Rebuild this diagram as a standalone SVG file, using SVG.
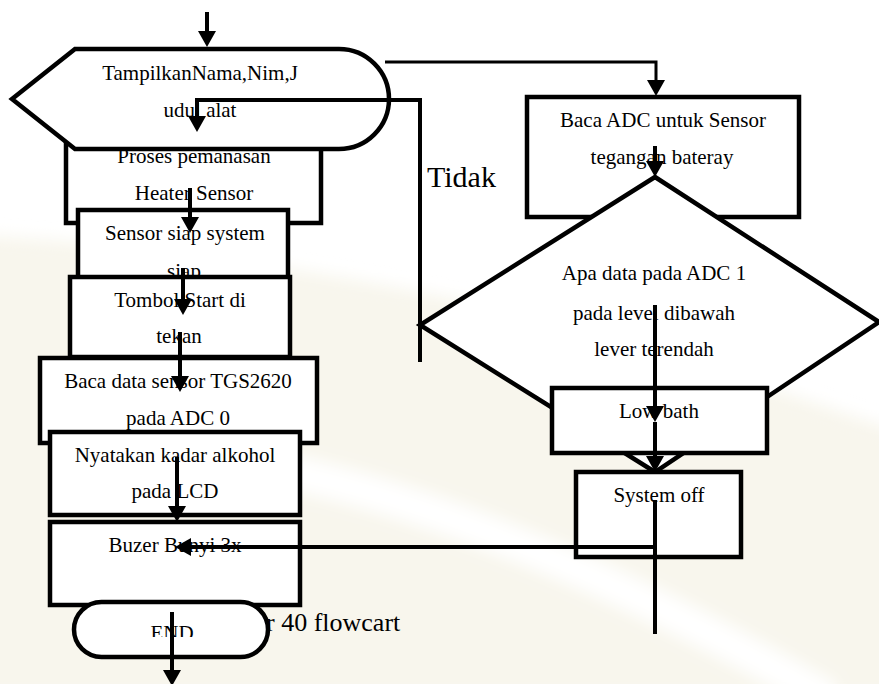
<svg xmlns="http://www.w3.org/2000/svg" width="879" height="684" viewBox="0 0 879 684">
  <style>
    .box { fill: #ffffff; stroke: #000000; stroke-width: 4.5; }
    .edge { fill: none; stroke: #000000; stroke-width: 4; }
    .thin { stroke-width: 3; }
    text { font-family: "Liberation Serif", "Times New Roman", serif; fill: #000000; }
    .t { font-size: 21px; text-anchor: middle; }
    .big { font-size: 30px; }
    .cap { font-size: 26px; }
    .wm { fill: #f8f6ed; }
  </style>
  <defs>
    <marker id="ah" viewBox="0 0 16 18" refX="10" refY="9" markerWidth="16" markerHeight="18" markerUnits="userSpaceOnUse" orient="auto">
      <path d="M0,0 L16,9 L0,18 Z" fill="#000000"/>
    </marker>
    <clipPath id="endClip">
      <rect x="100" y="600" width="150" height="37"/>
    </clipPath>
    <filter id="soft" x="-10%" y="-10%" width="120%" height="120%">
      <feGaussianBlur stdDeviation="8"/>
    </filter>
  </defs>

  <!-- page background with faint emblem -->
  <rect width="879" height="684" fill="#ffffff"/>
  <g id="emblem" filter="url(#soft)">
    <path class="wm" d="M-20,235 C150,245 300,268 420,292 C600,325 760,385 900,432 L900,700 L-20,700 Z"/>
    <path d="M280,470 Q520,520 830,700" fill="none" stroke="#ffffff" stroke-width="35"/>
  </g>

  <!-- left column -->
  <g id="heater">
    <rect class="box" x="66" y="140" width="255" height="83"/>
    <text class="t" x="194" y="163">Proses pemanasan</text>
    <text class="t" x="194" y="200">Heater Sensor</text>
  </g>
  <g id="display">
    <path class="box" d="M75,49 H339 A50,50 0 0 1 339,149 H75 L12,99 Z"/>
    <text class="t" x="200" y="80">TampilkanNama,Nim,J</text>
    <text class="t" x="200" y="117">udul alat</text>
  </g>
  <g id="ready">
    <rect class="box" x="78" y="210" width="210" height="80"/>
    <text class="t" x="185" y="240">Sensor siap system</text>
    <text class="t" x="184" y="278">siap</text>
  </g>
  <g id="start">
    <rect class="box" x="70" y="277" width="220" height="80"/>
    <text class="t" x="180" y="307">Tombol Start di</text>
    <text class="t" x="179" y="343">tekan</text>
  </g>
  <g id="read-tgs">
    <rect class="box" x="40" y="358" width="277" height="85"/>
    <text class="t" x="178" y="388">Baca data sensor TGS2620</text>
    <text class="t" x="178" y="425">pada ADC 0</text>
  </g>
  <g id="show-lcd">
    <rect class="box" x="50" y="432" width="250" height="83"/>
    <text class="t" x="175" y="462">Nyatakan kadar alkohol</text>
    <text class="t" x="175" y="498">pada LCD</text>
  </g>
  <g id="buzzer">
    <rect class="box" x="50" y="522" width="250" height="83"/>
    <text class="t" x="175" y="552">Buzer Bunyi 3x</text>
  </g>
  <text class="cap" x="266" y="631">r 40 flowcart</text>
  <g id="end">
    <rect class="box" x="74" y="602" width="194" height="55" rx="27.5" ry="27.5"/>
    <text class="t" x="172" y="640" font-size="22" clip-path="url(#endClip)">END</text>
  </g>

  <!-- right column -->
  <g id="read-adc">
    <rect class="box" x="527" y="97" width="272" height="120"/>
    <text class="t" x="663" y="127">Baca ADC untuk Sensor</text>
    <text class="t" x="662" y="164">tegangan bateray</text>
  </g>
  <g id="check-level">
    <polygon class="box" stroke-width="4" points="655,177 879,322 655,472 420,325"/>
    <text class="t" x="654" y="280">Apa data pada ADC 1</text>
    <text class="t" x="654" y="320">pada level dibawah</text>
    <text class="t" x="654" y="356">lever terendah</text>
  </g>
  <g id="low-bath">
    <rect class="box" x="552" y="388" width="215" height="65"/>
    <text class="t" x="659" y="418">Low bath</text>
  </g>
  <g id="system-off">
    <rect class="box" x="576" y="472" width="165" height="85"/>
    <text class="t" x="659" y="502">System off</text>
  </g>
  <text class="big" x="427" y="187">Tidak</text>

  <!-- connectors -->
  <g id="connectors">
    <path class="edge" d="M207,12 V41" marker-end="url(#ah)"/>
    <path class="edge thin" d="M385,62 H656 V90" marker-end="url(#ah)"/>
    <path class="edge" d="M420,362 V100 H197 V126" marker-end="url(#ah)"/>
    <path class="edge" d="M190,188 V227" marker-end="url(#ah)"/>
    <path class="edge" d="M183,268 V309" marker-end="url(#ah)"/>
    <path class="edge" d="M180,332 V386" marker-end="url(#ah)"/>
    <path class="edge" d="M177,457 V516" marker-end="url(#ah)"/>
    <path class="edge" d="M655,500 V634"/>
    <path class="edge" d="M655,547 H181" marker-end="url(#ah)"/>
    <path class="edge" d="M172,612 V680" marker-end="url(#ah)"/>
    <path class="edge" d="M655,146 V171" marker-end="url(#ah)"/>
    <path class="edge" d="M655,305 V416" marker-end="url(#ah)"/>
    <path class="edge" d="M655,422 V466" marker-end="url(#ah)"/>
  </g>
</svg>
